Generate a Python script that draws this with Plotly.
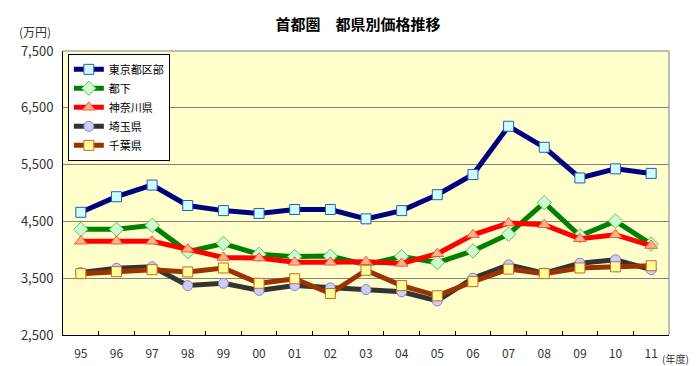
import plotly.graph_objects as go

years = ["95", "96", "97", "98", "99", "00", "01", "02", "03", "04", "05", "06", "07", "08", "09", "10", "11"]
tokyo_ku = [4660, 4935, 5140, 4780, 4690, 4640, 4710, 4710, 4545, 4690, 4970, 5325, 6175, 5805, 5265, 5425, 5345]
tokyo_shita = [4360, 4360, 4430, 3965, 4110, 3920, 3880, 3890, 3740, 3880, 3775, 3980, 4275, 4830, 4245, 4505, 4100]
kanagawa = [4150, 4150, 4150, 4010, 3865, 3855, 3780, 3780, 3790, 3760, 3930, 4265, 4470, 4440, 4195, 4265, 4075]
saitama = [3600, 3675, 3700, 3370, 3410, 3285, 3370, 3330, 3300, 3260, 3100, 3500, 3735, 3590, 3765, 3825, 3650]
chiba = [3580, 3615, 3650, 3610, 3680, 3410, 3490, 3230, 3640, 3370, 3190, 3440, 3660, 3580, 3680, 3700, 3720]

series = [
    ("東京都区部", tokyo_ku, "#000080", "square", "#CCFFFF", "#3355BB", 10),
    ("都下", tokyo_shita, "#008000", "diamond", "#CCFFCC", "#66BB66", 11),
    ("神奈川県", kanagawa, "#FF0000", "triangle-up", "#FFB38A", "#FF5533", 11),
    ("埼玉県", saitama, "#333333", "circle", "#CCCCFF", "#8888AA", 10),
    ("千葉県", chiba, "#993300", "square", "#FFFF99", "#CC6633", 10),
]

fig = go.Figure()
for name, vals, lc, sym, fill, edge, sz in series:
    fig.add_trace(go.Scatter(
        x=years, y=vals, name=name, mode="lines+markers",
        line=dict(color=lc, width=5),
        marker=dict(symbol=sym, size=sz, color=fill, line=dict(color=edge, width=1)),
    ))

font_family = "Noto Sans CJK JP, Noto Sans, sans-serif"

fig.update_layout(
    width=700, height=366,
    margin=dict(l=55, r=39, t=43, b=39),
    paper_bgcolor="white",
    plot_bgcolor="#FFFFCC",
    font=dict(family=font_family, size=12, color="#333333"),
    title=dict(text="<b>首都圏　都県別価格推移</b>", x=0.5, xanchor="center",
               y=0.955, yanchor="middle", font=dict(size=15, color="#000000")),
    showlegend=True,
    legend=dict(x=0.008, y=0.99, xanchor="left", yanchor="top",
                bgcolor="white", bordercolor="#000000", borderwidth=1,
                font=dict(size=11, color="#000000"),
                tracegroupgap=0, itemwidth=30),
    xaxis=dict(
        type="category", range=[-0.5, 16.5],
        showgrid=False, zeroline=False,
        showline=True, linecolor="#000000", linewidth=1,
        ticks="inside", ticklen=4, tickcolor="#000000", tickson="boundaries",
        tickfont=dict(size=12, color="#333333"),
        ticklabelstandoff=8,
    ),
    yaxis=dict(
        range=[2500, 7500], tickvals=[2500, 3500, 4500, 5500, 6500, 7500],
        tickformat=",", showgrid=True, gridcolor="#808080", gridwidth=1,
        zeroline=False, showline=True, linecolor="#000000", linewidth=1,
        ticks="", tickfont=dict(size=13, color="#333333"),
        ticklabelstandoff=6,
    ),
    shapes=[
        dict(type="line", xref="paper", yref="paper", x0=0, x1=1, y0=1, y1=1,
             line=dict(color="#808080", width=1)),
        dict(type="line", xref="paper", yref="paper", x0=1, x1=1, y0=0, y1=1,
             line=dict(color="#808080", width=1)),
    ],
    annotations=[
        dict(text="(万円)", xref="paper", yref="paper", x=-0.046, y=1.07,
             xanchor="center", yanchor="middle", showarrow=False,
             font=dict(size=12, color="#333333")),
        dict(text="(年度)", xref="paper", yref="paper", x=0.985, y=-0.082,
             xanchor="left", yanchor="middle", showarrow=False,
             font=dict(size=10, color="#333333")),
    ],
)

fig.write_html("out.html")
